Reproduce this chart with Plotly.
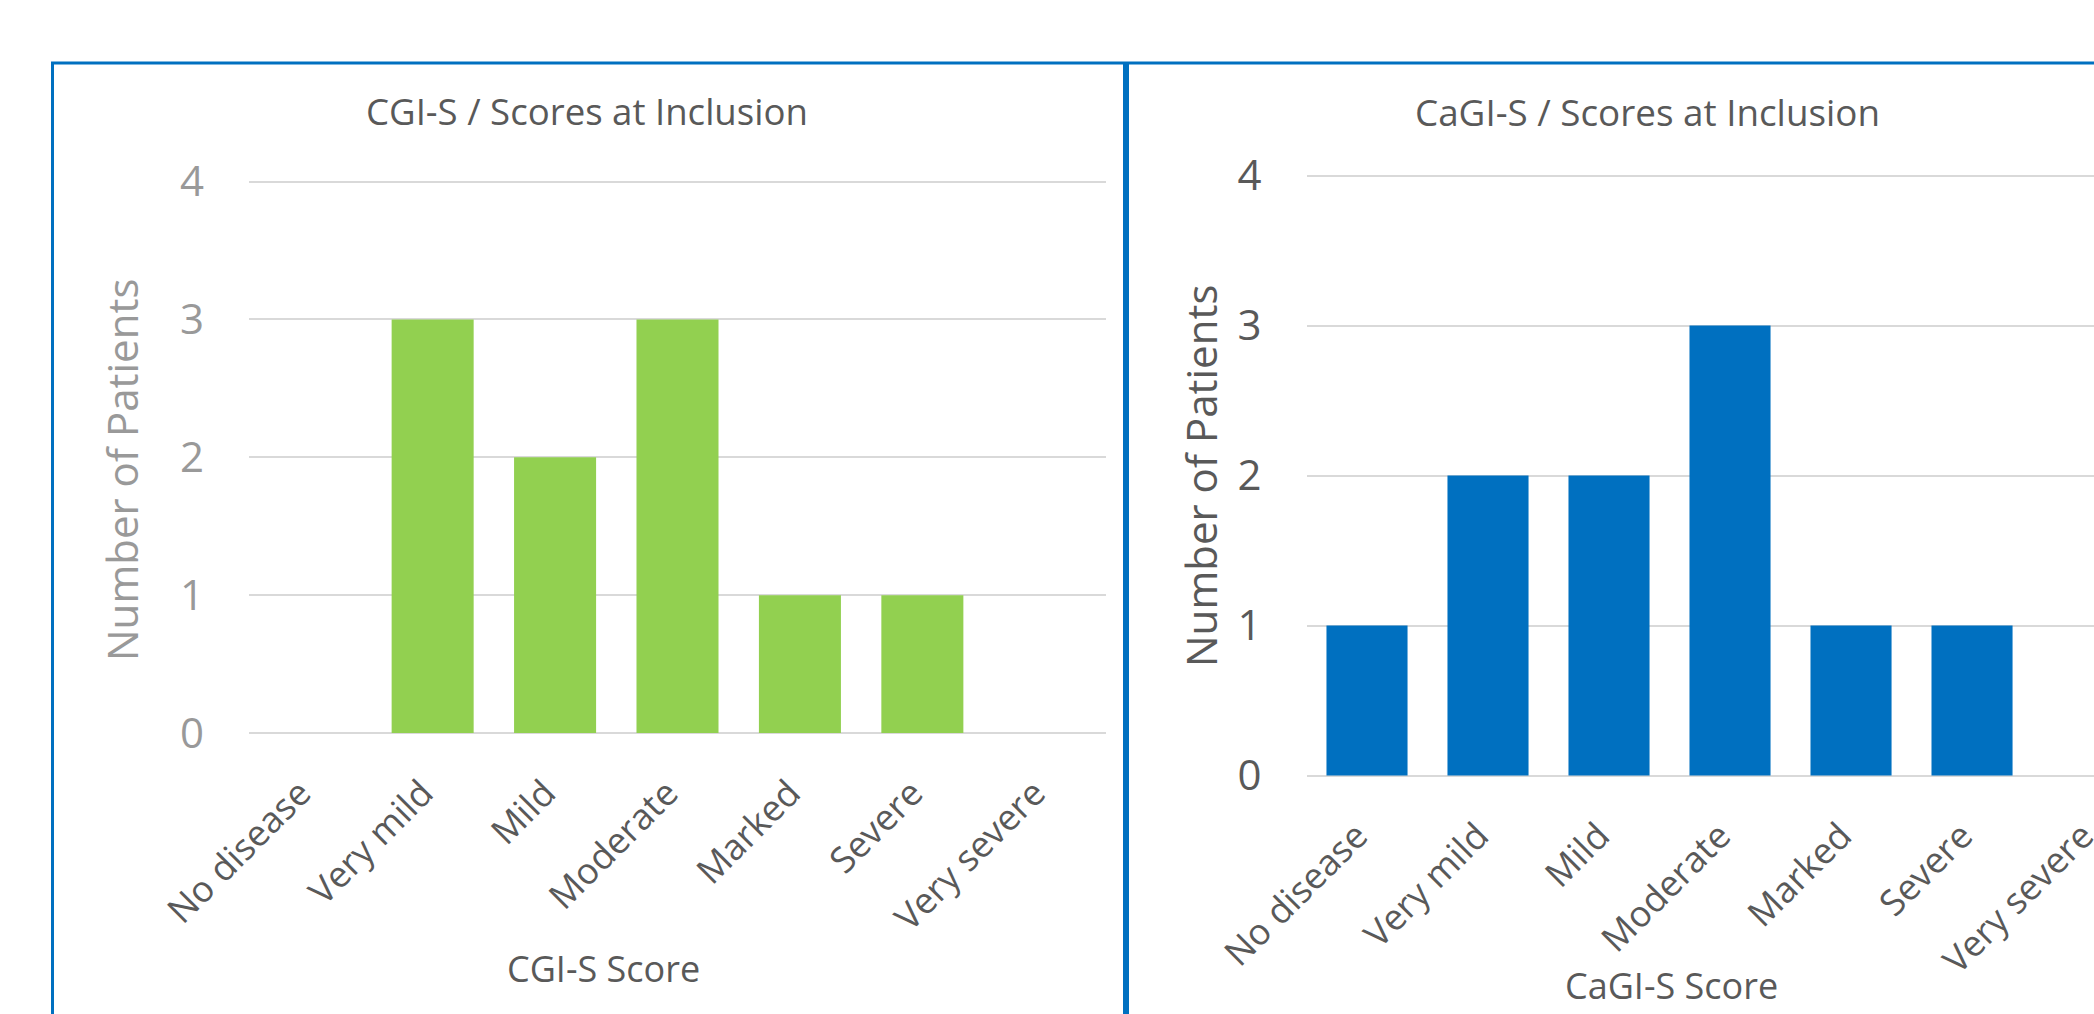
import plotly.graph_objects as go

# Severity categories shared by both scales
categories = ["No disease", "Very mild", "Mild", "Moderate", "Marked", "Severe", "Very severe"]

# Number of patients per score at inclusion
cgi_counts = [0, 3, 2, 3, 1, 1, 0]
cagi_counts = [1, 2, 2, 3, 1, 1, 0]

y_ticks = [0, 1, 2, 3, 4]

W, H = 2094, 1014
FONT = "Open Sans, Segoe UI, DejaVu Sans, sans-serif"
DARK = "#595959"
LIGHT = "#999999"
GRID = "#D9D9D9"
BORDER = "#0070C0"
PAD = 0.02  # small range padding so the 0 and 4 gridlines are drawn


def px(x):
    return x / W


def py(y):
    return 1 - y / H


def y_domain(y0_px, y4_px):
    unit = (y0_px - y4_px) / 4
    return [py(y0_px + PAD * unit), py(y4_px - PAD * unit)]


fig = go.Figure()

fig.add_trace(go.Bar(
    x=categories, y=cgi_counts, marker=dict(color="#92D050", line=dict(width=0)),
    xaxis="x", yaxis="y", showlegend=False,
))
fig.add_trace(go.Bar(
    x=categories, y=cagi_counts, marker=dict(color="#0070C0", line=dict(width=0)),
    xaxis="x2", yaxis="y2", showlegend=False,
))

xcommon = dict(
    type="category", tickangle=-45, showgrid=False, showline=False, zeroline=False,
    automargin=False, ticks="", tickfont=dict(family=FONT, size=36, color=DARK),
    ticklabelstandoff=28, ticklabelshift=-10,
)
ycommon = dict(
    range=[-PAD, 4 + PAD], tickvals=y_ticks, showgrid=True, gridcolor=GRID, gridwidth=2,
    zeroline=False, showline=False, ticks="", ticklabelstandoff=44, automargin=False,
)

fig.update_layout(
    width=W, height=H,
    margin=dict(l=0, r=0, t=0, b=0),
    paper_bgcolor="white", plot_bgcolor="white",
    bargap=0.33,
    xaxis=dict(domain=[px(249), px(1106)], range=[-0.5, 6.5], anchor="y", **xcommon),
    yaxis=dict(domain=y_domain(733, 181.6), anchor="x",
               tickfont=dict(family=FONT, size=42, color=LIGHT), **ycommon),
    xaxis2=dict(domain=[px(1306.5), 1.0], range=[-0.5, 6.008], anchor="y2", **xcommon),
    yaxis2=dict(domain=y_domain(775.5, 175.5), anchor="x2",
                tickfont=dict(family=FONT, size=42, color=DARK), **ycommon),
)

# Panel frames
fig.add_shape(type="rect", xref="paper", yref="paper",
              x0=px(52.5), x1=px(1124.5), y0=py(1040), y1=py(63),
              line=dict(color=BORDER, width=3), fillcolor="rgba(0,0,0,0)", layer="above")
fig.add_shape(type="rect", xref="paper", yref="paper",
              x0=px(1127.5), x1=px(2140), y0=py(1040), y1=py(63),
              line=dict(color=BORDER, width=3), fillcolor="rgba(0,0,0,0)", layer="above")


def label(text, x, y, size, color, angle=0):
    fig.add_annotation(text=text, x=px(x), y=py(y), xref="paper", yref="paper",
                       showarrow=False, textangle=angle, xanchor="center", yanchor="middle",
                       font=dict(family=FONT, size=size, color=color))


# Chart titles
label("CGI-S / Scores at Inclusion", 587, 111, 36.6, DARK)
label("CaGI-S / Scores at Inclusion", 1648, 112, 36.8, DARK)

# Axis titles
label("Number of Patients", 122, 470, 42, LIGHT, -90)
label("Number of Patients", 1201, 476, 42, DARK, -90)
label("CGI-S Score", 603, 968, 36, DARK)
label("CaGI-S Score", 1671, 985, 36, DARK)

fig.write_html("out.html")
